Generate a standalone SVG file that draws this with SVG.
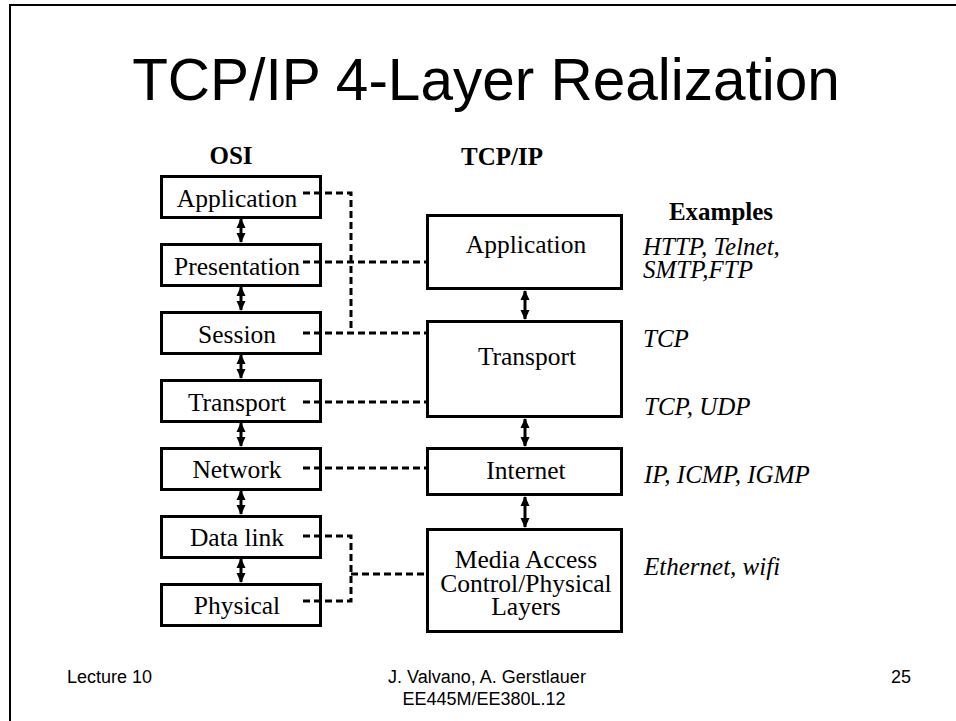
<svg xmlns="http://www.w3.org/2000/svg" width="956" height="721" viewBox="0 0 956 721">
<style>
.box{fill:#fff;stroke:#000;stroke-width:3}
.lbl{font-family:"Liberation Serif","Times New Roman",serif;font-size:25.5px;fill:#000;text-anchor:middle}
.hdr{font-family:"Liberation Serif","Times New Roman",serif;font-size:25px;font-weight:bold;fill:#000}
.ex{font-family:"Liberation Serif","Times New Roman",serif;font-size:25px;font-style:italic;fill:#000}
.ft{font-family:"Liberation Sans",Arial,sans-serif;font-size:18px;fill:#000}
.dash{fill:none;stroke:#000;stroke-width:3;stroke-dasharray:7 4}
.arr{fill:none;stroke:#000;stroke-width:3;marker-start:url(#ah);marker-end:url(#ah)}
</style>
<defs>
<marker id="ah" viewBox="0 0 10 10" refX="9" refY="5" markerWidth="10" markerHeight="10" markerUnits="userSpaceOnUse" orient="auto-start-reverse">
<path d="M0,0.5 L10,5 L0,9.5 z" fill="#000"/>
</marker>
</defs>
<rect x="0" y="0" width="956" height="721" fill="#fff"/>
<path d="M10,721 V5 H956" fill="none" stroke="#000" stroke-width="2"/>
<text x="486" y="100" font-family="Liberation Sans, Arial, sans-serif" font-size="58.5" text-anchor="middle" fill="#000">TCP/IP 4-Layer Realization</text>
<text class="hdr" x="231" y="164" text-anchor="middle">OSI</text>
<text class="hdr" x="502" y="165" text-anchor="middle">TCP/IP</text>
<text class="hdr" x="721" y="220" text-anchor="middle">Examples</text>

<g id="osi-application"><rect class="box" x="161.5" y="176.5" width="159" height="41"/><text class="lbl" x="237" y="207">Application</text></g>
<g id="osi-presentation"><rect class="box" x="161.5" y="244.5" width="159" height="41"/><text class="lbl" x="237" y="275">Presentation</text></g>
<g id="osi-session"><rect class="box" x="161.5" y="312.5" width="159" height="41"/><text class="lbl" x="237" y="343">Session</text></g>
<g id="osi-transport"><rect class="box" x="161.5" y="380.5" width="159" height="41"/><text class="lbl" x="237" y="411">Transport</text></g>
<g id="osi-network"><rect class="box" x="161.5" y="448.5" width="159" height="41"/><text class="lbl" x="237" y="478">Network</text></g>
<g id="osi-datalink"><rect class="box" x="161.5" y="516.5" width="159" height="41"/><text class="lbl" x="237" y="546">Data link</text></g>
<g id="osi-physical"><rect class="box" x="161.5" y="584.5" width="159" height="41"/><text class="lbl" x="237" y="614">Physical</text></g>

<g id="tcp-application"><rect class="box" x="427.5" y="215.5" width="194" height="73"/><text class="lbl" x="526" y="253">Application</text></g>
<g id="tcp-transport"><rect class="box" x="427.5" y="321.5" width="194" height="95"/><text class="lbl" x="527" y="365">Transport</text></g>
<g id="tcp-internet"><rect class="box" x="427.5" y="448.5" width="194" height="46"/><text class="lbl" x="526" y="479">Internet</text></g>
<g id="tcp-media"><rect class="box" x="427.5" y="529.5" width="194" height="102"/>
<text class="lbl" x="526" y="568">Media Access</text>
<text class="lbl" x="526" y="592">Control/Physical</text>
<text class="lbl" x="526" y="615">Layers</text></g>

<g id="connectors">
<path class="dash" d="M303,193 H351 V333"/>
<path class="dash" d="M303,262 H426"/>
<path class="dash" d="M303,333 H426"/>
<path class="dash" d="M303,402 H426"/>
<path class="dash" d="M303,468 H426"/>
<path class="dash" d="M303,536 H351 V601 H303"/>
<path class="dash" d="M351,574 H426"/>
<path class="arr" d="M241,219 V242"/>
<path class="arr" d="M241,287 V310"/>
<path class="arr" d="M241,355 V378"/>
<path class="arr" d="M241,423 V446"/>
<path class="arr" d="M241,491 V514"/>
<path class="arr" d="M241,559 V582"/>
<path class="arr" d="M525,291 V319"/>
<path class="arr" d="M525,419 V446"/>
<path class="arr" d="M525,497 V527"/>
</g>

<g id="examples">
<text class="ex" x="643" y="255">HTTP, Telnet,</text>
<text class="ex" x="643" y="278">SMTP,FTP</text>
<text class="ex" x="643" y="347">TCP</text>
<text class="ex" x="644" y="415">TCP, UDP</text>
<text class="ex" x="644" y="483">IP, ICMP, IGMP</text>
<text class="ex" x="644" y="575">Ethernet, wifi</text>
</g>

<text class="ft" x="67" y="683">Lecture 10</text>
<text class="ft" x="487" y="683" text-anchor="middle">J. Valvano, A. Gerstlauer</text>
<text class="ft" x="484" y="705" text-anchor="middle">EE445M/EE380L.12</text>
<text class="ft" x="891" y="683">25</text>
</svg>
